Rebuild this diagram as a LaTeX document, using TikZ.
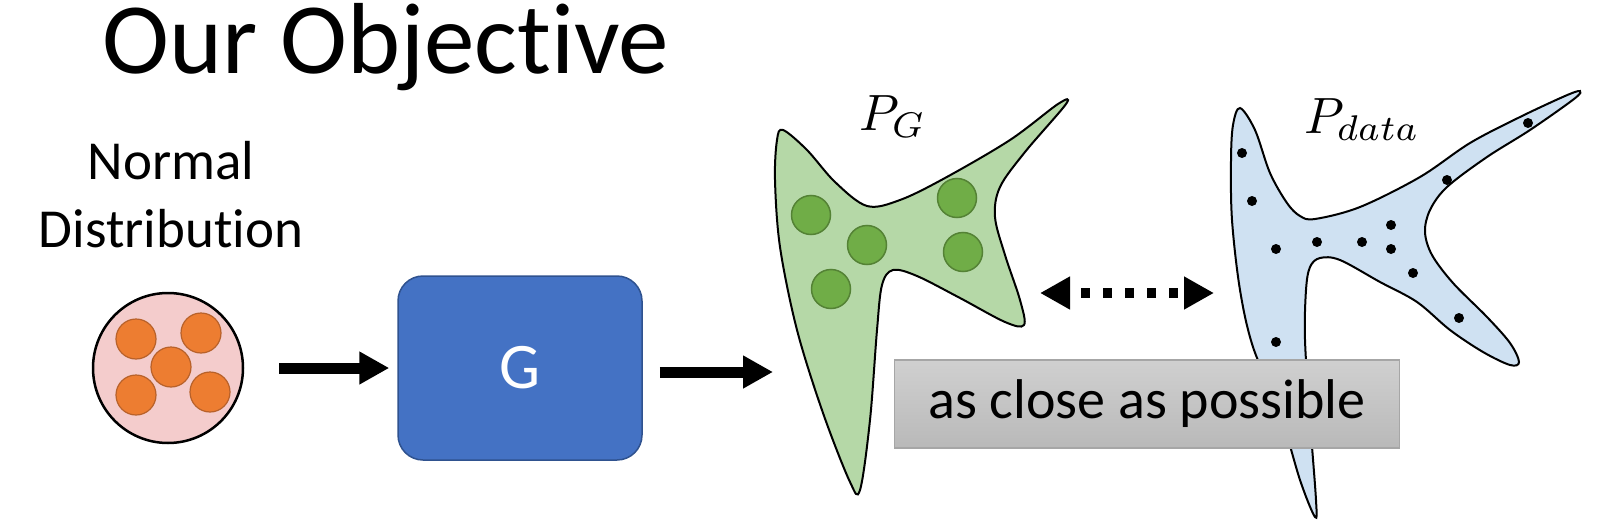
\documentclass[tikz,border=0pt]{standalone}
\usepackage{fontspec}
\setmainfont{Carlito}[Ligatures={NoCommon}]
\usepackage{amsmath}
\usepackage{xcolor}
\usetikzlibrary{arrows.meta}
\usetikzlibrary{shapes}

\definecolor{pinkfill}{HTML}{F4CCCC}
\definecolor{orangedot}{HTML}{ED7D31}
\definecolor{orangeline}{HTML}{B8612A}
\definecolor{genblue}{HTML}{4472C4}
\definecolor{genline}{HTML}{2F528F}
\definecolor{gfill}{HTML}{B5D8A7}
\definecolor{gdotfill}{HTML}{70AD47}
\definecolor{gdotline}{HTML}{548235}
\definecolor{dfill}{HTML}{CFE1F2}

\tikzset{
  bigarrow/.style={line width=11pt, -{Triangle[length=30pt,width=31pt]}},
  dotarrow/.style={line width=10pt, dash pattern=on 9pt off 13pt, dash phase=9pt,
    {Triangle[length=30pt,width=31pt]}-{Triangle[length=30pt,width=31pt]}},
  blob/.style={draw=black, line width=2pt},
  gdot/.style={fill=gdotfill, draw=gdotline, line width=1.5pt},
  odot/.style={fill=orangedot, draw=orangeline, line width=1.2pt},
  ddot/.style={fill=black},
  mathlabel/.style={anchor=base west, inner sep=0pt, scale=5.1},
  genbox/.style={rectangle, rounded corners=25pt, fill=genblue, draw=genline, line width=1.5pt,
    minimum width=244pt, minimum height=184pt, text=white, font=\fontsize{65}{78}\selectfont},
  closebox/.style={rectangle, top color=gray!37, bottom color=gray!55, draw=gray!70, line width=1.5pt,
    minimum width=505pt, minimum height=88pt, font=\fontsize{56}{67}\selectfont},
}

\begin{document}
\begin{tikzpicture}[x=1pt, y=-1pt]
        \useasboundingbox (0,0) rectangle (1623,522);

        \node[anchor=base west, inner sep=0pt, font=\fontsize{101}{120}\selectfont] (title) at (102,73) {Our Objective};
        \node[align=center, inner sep=0pt, font=\fontsize{55}{68}\selectfont] (ndlabel) at (171,195) {Normal\\Distribution};

        \node[circle, fill=pinkfill, draw=black, line width=2.5pt, minimum size=150pt] (nd) at (168,368) {};
        \foreach \dx/\dy in {-32/-29, 33/-35, 3/-1, -32/27, 42/24}
                \filldraw[odot] ([shift={(\dx,\dy)}]nd.center) circle (20pt);

        \node[genbox] (gen) at (520,368) {G};

        \draw[blob, fill=gfill] plot[smooth cycle, tension=0.55] coordinates {
                (783,130) (807,150) (835,182) (867,206) (900,200) (945,178) (1010,140) (1058,104)
                (1066,104) (1025,152) (1000,187) (995,217) (1005,255) (1020,300) (1024,325) (1005,322)
                (960,298) (917,276) (893,270) (882,285) (877,330) (870,420) (860,490)
                (850,482) (823,413) (797,330) (780,247) (775,180) (777,140)};
        \filldraw[gdot] (811,215) circle (19.5pt);
        \filldraw[gdot] (867,245) circle (19.5pt);
        \filldraw[gdot] (831,289) circle (19.5pt);
        \filldraw[gdot] (957,198) circle (19.5pt);
        \filldraw[gdot] (963,252) circle (19.5pt);
        \node[mathlabel] (pglabel) at (858,130) {$P_G$};

        \draw[blob, fill=dfill] plot[smooth cycle, tension=0.55] coordinates {
                (1240,108) (1255,130) (1270,173) (1287,203) (1300,216) (1315,219) (1360,207)
                (1420,177) (1470,143) (1520,117) (1565,96) (1580,91) (1574,99) (1530,130)
                (1487,157) (1447,187) (1430,210) (1425,232) (1432,255) (1453,283) (1487,317)
                (1510,343) (1519,362) (1510,365) (1483,352) (1450,330) (1417,302) (1380,282)
                (1340,260) (1320,258) (1310,267) (1306,290) (1305,340) (1310,420) (1316,500)
                (1315,517) (1300,480) (1280,413) (1253,347) (1240,290) (1232,220) (1231,160)
                (1233,125)};
        \foreach \px/\py in {1242/153, 1252/201, 1276/249, 1317/242, 1362/242, 1391/225, 1391/249,
                1413/273, 1447/180, 1528/123, 1459/318, 1276/342}
                \fill[ddot] (\px,\py) circle (5pt);
        \node[mathlabel] (pdlabel) at (1303,133) {$P_{data}$};

        \node[closebox] (close) at (1147,404) {as close as possible};

        \coordinate (pgin) at (773,372);
        \coordinate (pgout) at (1040,293);
        \coordinate (pdin) at (1214,293);
        \draw[bigarrow] ([xshift=35pt]nd.east) -- ([xshift=-8pt]gen.west);
        \draw[bigarrow] ([xshift=17pt,yshift=-4pt]gen.east) -- (pgin);
        \draw[dotarrow] (pgout) -- (pdin);
\end{tikzpicture}
\end{document}
